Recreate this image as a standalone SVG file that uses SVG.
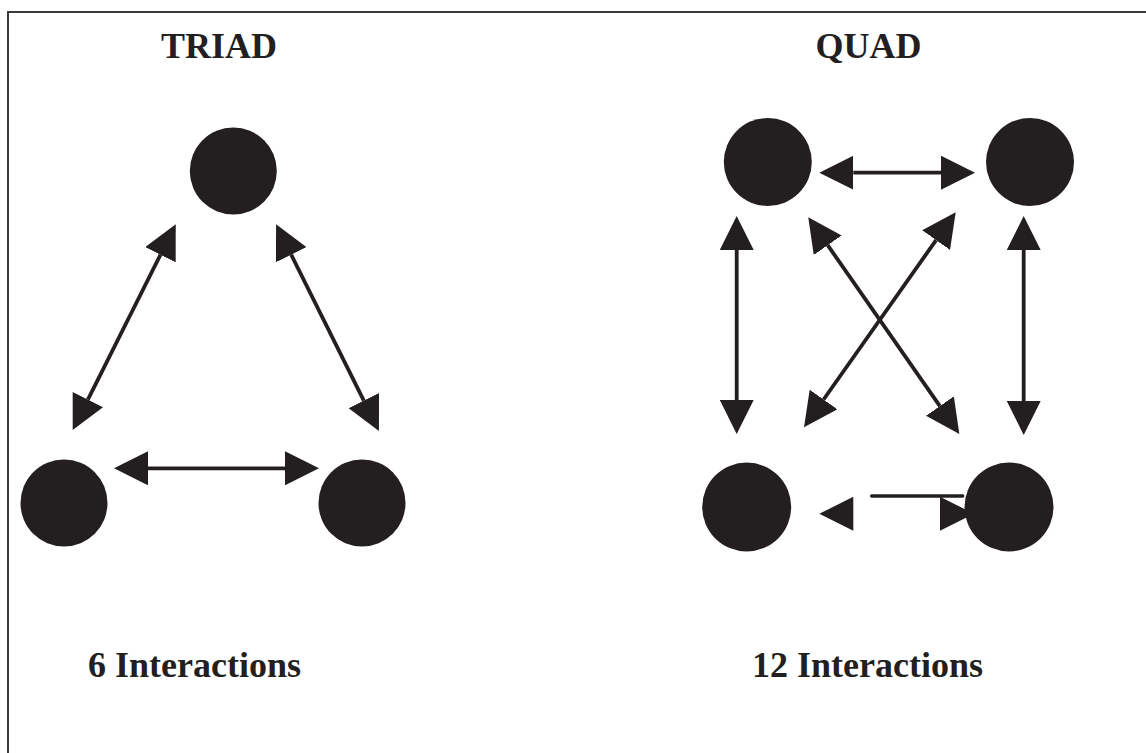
<svg xmlns="http://www.w3.org/2000/svg" width="1146" height="753" viewBox="0 0 1146 753">
<style>
.node{fill:#231f20}
.conn{stroke:#231f20;stroke-width:3.8;fill:none;marker-start:url(#ah);marker-end:url(#ah)}
.head{fill:#231f20}
.lbl{font-family:"Liberation Serif","Times New Roman",serif;font-weight:bold;font-size:36px;fill:#231f20}
</style>
<defs>
<marker id="ah" markerUnits="userSpaceOnUse" markerWidth="34" markerHeight="34" viewBox="0 0 34 34" refX="0" refY="17" orient="auto-start-reverse">
<path d="M0,0 L34,17 L0,34 Z" fill="#231f20"/>
</marker>
</defs>
<rect width="1146" height="753" fill="#ffffff"/>
<path d="M8,753 V12 H1146" fill="none" stroke="#3a3a3a" stroke-width="2"/>
<g id="titles">
<text class="lbl" x="219" y="58" text-anchor="middle">TRIAD</text>
<text class="lbl" x="868.5" y="58" text-anchor="middle">QUAD</text>
<text class="lbl" x="88" y="677">6 Interactions</text>
<text class="lbl" x="752" y="677">12 Interactions</text>
</g>
<g id="connectors">
<path class="conn" d="M160.5,254.7 L87.9,399.6"/>
<path class="conn" d="M291.2,254.7 L363.8,400.6"/>
<path class="conn" d="M148,468.3 L285,468.3"/>
<path class="conn" d="M853.3,172.7 L941,172.7"/>
<path class="conn" d="M736.7,250 L736.7,400"/>
<path class="conn" d="M1023.7,250 L1023.7,401"/>
<path class="conn" d="M827.7,245.2 L939.9,406.1"/>
<path class="conn" d="M936.1,240.1 L823.6,399.5"/>
<g id="bottom-quad-connector">
<path class="head" d="M819.3,513.8 L853.3,496.8 L853.3,530.8 Z"/>
<path class="head" d="M974,513.8 L940,496.8 L940,530.8 Z"/>
<path d="M871.7,496 L962.7,496" stroke="#231f20" stroke-width="3.5" stroke-linecap="round" fill="none"/>
</g>
</g>
<g id="triad-top"><circle class="node" cx="233.3" cy="171" r="43.5"/></g>
<g id="triad-left"><circle class="node" cx="64" cy="503" r="43.5"/></g>
<g id="triad-right"><circle class="node" cx="362" cy="503" r="43.5"/></g>
<g id="quad-top-left"><circle class="node" cx="767.8" cy="162" r="44"/></g>
<g id="quad-top-right"><circle class="node" cx="1030" cy="162" r="44"/></g>
<g id="quad-bottom-left"><circle class="node" cx="746.7" cy="507" r="44.5"/></g>
<g id="quad-bottom-right"><circle class="node" cx="1009" cy="507" r="44.5"/></g>
</svg>
